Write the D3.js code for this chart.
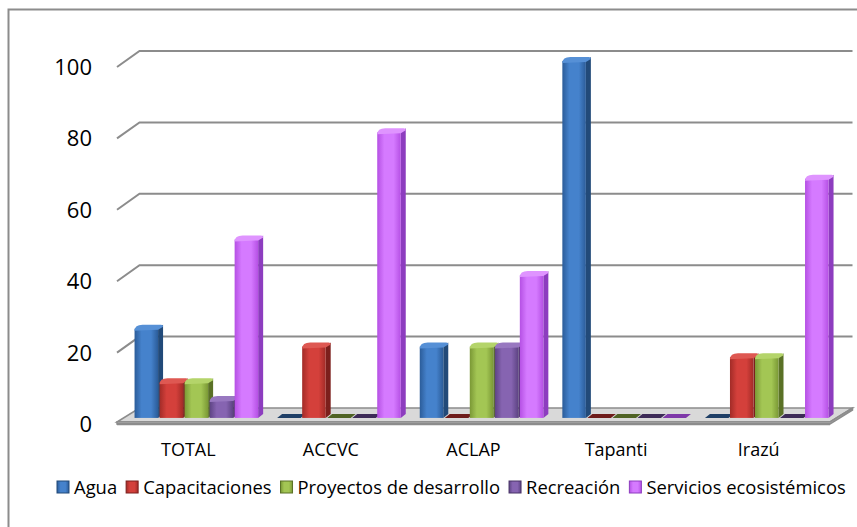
<!DOCTYPE html>
<html>
<head>
<meta charset="utf-8">
<script src="https://cdn.jsdelivr.net/npm/d3@7"></script>
<style>
  body { margin: 0; background: #fff; }
  text { font-family: "Open Sans", "Noto Sans", sans-serif; fill: #000; }
</style>
</head>
<body>
<div id="chart"></div>
<script>
// 3D clustered column chart, redrawn flat with a fake depth projection.

const categories = ['TOTAL', 'ACCVC', 'ACLAP', 'Tapanti', 'Irazú'];
const seriesNames = ['Agua', 'Capacitaciones', 'Proyectos de desarrollo', 'Recreación', 'Servicios ecosistémicos'];
const agua = [25, 0, 20, 100, 0];
const capacitaciones = [10, 20, 0, 0, 17];
const proyectos = [10, 0, 20, 0, 17];
const recreacion = [5, 0, 20, 0, 0];
const servicios = [50, 80, 40, 0, 67];
const yTicks = [0, 20, 40, 60, 80, 100];

const seriesValues = [agua, capacitaciones, proyectos, recreacion, servicios];

// colours per series: front (light, dark), side, top, flat (zero)
const palette = [
  { a: '#4582cc', b: '#2b5c99', side: '#224a79', top: '#5690d6', flat: '#1f3f66' },
  { a: '#d4403b', b: '#a22b27', side: '#7c1f1c', top: '#de5852', flat: '#6e1c1a' },
  { a: '#a3c654', b: '#7a9835', side: '#5a7126', top: '#b4d46a', flat: '#4f6224' },
  { a: '#8664b1', b: '#5d4383', side: '#483367', top: '#9878c0', flat: '#3d2b57' },
  { a: '#d57aff', b: '#b550e4', side: '#8d3dbf', top: '#df94ff', flat: '#7e38a8' }
];

const W = 857, H = 527;
const depth = { dx: 22.5, dy: -16 };   // wall depth
const barDepth = { dx: 5, dy: -4 };    // bar thickness
const barPlane = 0.38;                 // bars stand at this fraction of the depth

const svg = d3.select('#chart').append('svg').attr('width', W).attr('height', H);

const defs = svg.append('defs');
palette.forEach((p, i) => {
  const g = defs.append('linearGradient').attr('id', 'g' + i).attr('x1', 0).attr('x2', 1).attr('y1', 0).attr('y2', 0);
  g.append('stop').attr('offset', '0%').attr('stop-color', p.b);
  g.append('stop').attr('offset', '30%').attr('stop-color', p.a);
  g.append('stop').attr('offset', '70%').attr('stop-color', p.a);
  g.append('stop').attr('offset', '100%').attr('stop-color', p.b);
});

// outer frame (cropped at right and bottom in the original)
svg.append('rect').attr('x', 8.5).attr('y', 9.5).attr('width', W + 10).attr('height', H + 10)
  .attr('fill', 'none').attr('stroke', '#8c8c8c').attr('stroke-width', 2);

// scales on the front plane
const x = d3.scaleBand().domain(categories).range([117, 830]);
const xSub = d3.scaleBand().domain(seriesNames).range([9, x.bandwidth() - 8.5]);
const y = d3.scaleLinear().domain([0, 100]).range([424, 67]);

const gridColor = '#8c8c8c';
const grid = svg.append('g');
yTicks.filter(t => t > 0).forEach(t => {
  const yf = y(t), yb = y(t) + depth.dy;
  grid.append('path')
    .attr('d', `M${x.range()[0]},${yf} L${x.range()[0] + depth.dx},${yb} L${x.range()[1] + depth.dx},${yb}`)
    .attr('fill', 'none').attr('stroke', gridColor).attr('stroke-width', 2);
});

// floor
const x0 = x.range()[0], x1 = x.range()[1], y0 = y(0);
svg.append('path')
  .attr('d', `M${x0},${y0 - 2} L${x0 + depth.dx},${y0 + depth.dy} L${x1 + depth.dx},${y0 + depth.dy} L${x1},${y0 - 2} Z`)
  .attr('fill', '#d9d9d9').attr('stroke', gridColor).attr('stroke-width', 1.5);
svg.append('path')
  .attr('d', `M${x0},${y0 - 2} L${x1},${y0 - 2} L${x1 + depth.dx},${y0 + depth.dy} L${x1 + depth.dx},${y0 + depth.dy + 2} L${x1},${y0} L${x0},${y0} Z`)
  .attr('fill', '#f2f2f2').attr('stroke', gridColor).attr('stroke-width', 1.5);
svg.append('line').attr('x1', x0).attr('x2', x1).attr('y1', y0).attr('y2', y0)
  .attr('stroke', gridColor).attr('stroke-width', 2.5);

// y tick labels
svg.append('g').selectAll('text').data(yTicks).join('text')
  .attr('x', 92).attr('y', d => y(d)).attr('dy', '0.36em')
  .attr('text-anchor', 'end').style('font-size', '22px')
  .text(d => d);

// bars
const bars = [];
categories.forEach((c, ci) => {
  seriesNames.forEach((s, si) => {
    bars.push({ cat: c, series: s, si, v: seriesValues[si][ci] });
  });
});

const shiftX = depth.dx * barPlane, shiftY = depth.dy * barPlane;
const bw = xSub.bandwidth() - 1.5;

const barG = svg.append('g').selectAll('g').data(bars).join('g');
barG.each(function (d) {
  const g = d3.select(this);
  const p = palette[d.si];
  const bx = x(d.cat) + xSub(d.series) + shiftX;
  const base = y(0) + shiftY;
  const top = y(d.v) + shiftY;
  const ddx = barDepth.dx, ddy = barDepth.dy;
  if (d.v <= 0) {
    g.append('path')
      .attr('d', `M${bx},${base} L${bx + ddx},${base + ddy} L${bx + bw + ddx},${base + ddy} L${bx + bw},${base} Z`)
      .attr('fill', p.flat);
    return;
  }
  // side
  g.append('path')
    .attr('d', `M${bx + bw},${top} L${bx + bw + ddx},${top + ddy} L${bx + bw + ddx},${base + ddy} L${bx + bw},${base} Z`)
    .attr('fill', p.side);
  // front
  g.append('rect').attr('x', bx).attr('y', top).attr('width', bw).attr('height', base - top)
    .attr('fill', `url(#g${d.si})`);
  // top cap
  g.append('path')
    .attr('d', `M${bx},${top + 2} Q${bx},${top + ddy} ${bx + ddx + 3},${top + ddy} L${bx + bw + ddx - 2},${top + ddy} Q${bx + bw + ddx},${top + ddy} ${bx + bw + ddx},${top + ddy + 2} L${bx + bw},${top + 1} Z`)
    .attr('fill', p.top);
});

// category labels
svg.append('g').selectAll('text').data(categories).join('text')
  .attr('x', d => x(d) + x.bandwidth() / 2).attr('y', 450).attr('dy', '0.36em')
  .attr('text-anchor', 'middle').style('font-size', '18px')
  .text(d => d);

// legend
const legend = svg.append('g');
let lx = 57;
seriesNames.forEach((s, i) => {
  const p = palette[i];
  legend.append('rect').attr('x', lx).attr('y', 481).attr('width', 12).attr('height', 12)
    .attr('fill', `url(#g${i})`).attr('stroke', p.side).attr('stroke-width', 1);
  const t = legend.append('text').attr('x', lx + 17).attr('y', 487).attr('dy', '0.36em')
    .style('font-size', '18.4px').text(s);
  lx += 17 + t.node().getComputedTextLength() + 9;
});
</script>
</body>
</html>
